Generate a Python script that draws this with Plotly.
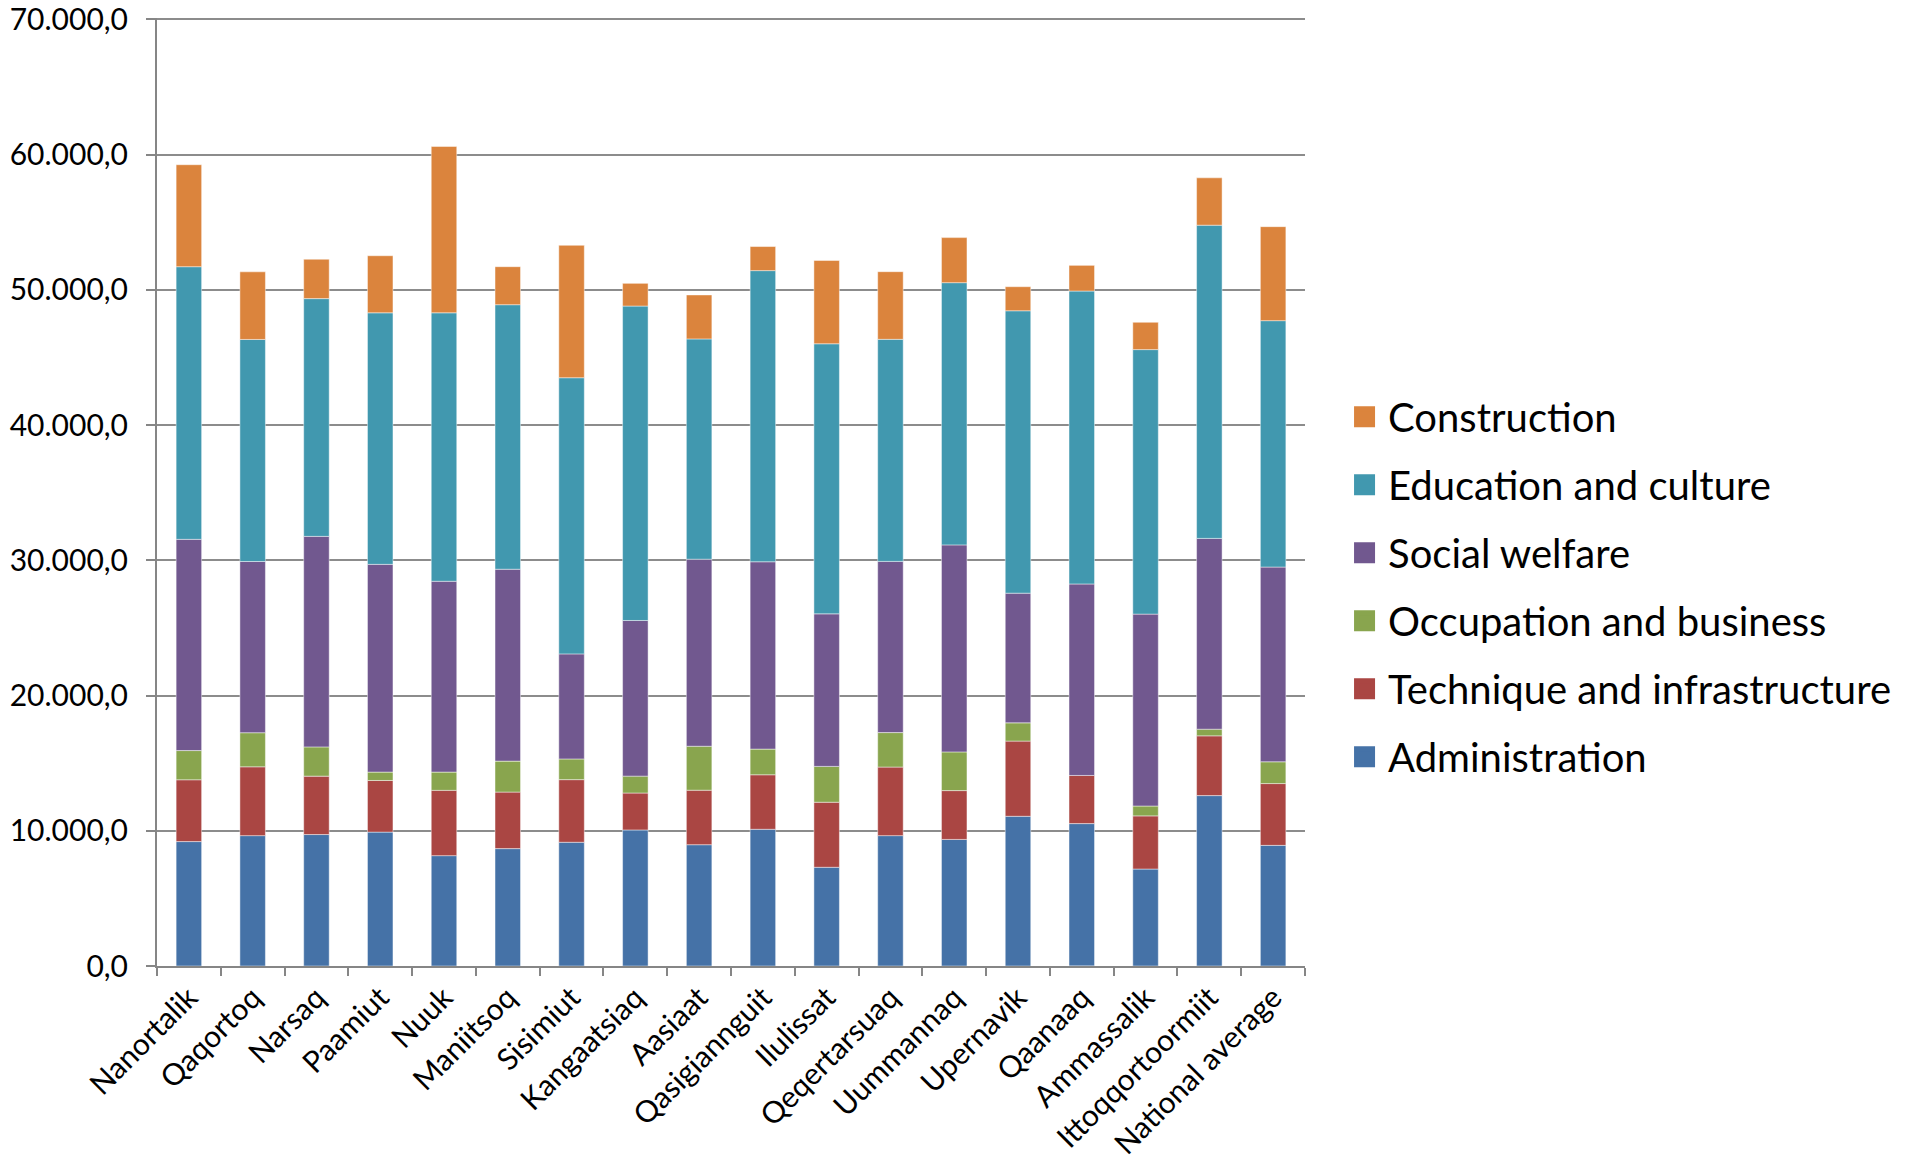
import plotly.graph_objects as go

categories = ["Nanortalik", "Qaqortoq", "Narsaq", "Paamiut", "Nuuk", "Maniitsoq",
              "Sisimiut", "Kangaatsiaq", "Aasiaat", "Qasigiannguit", "Ilulissat",
              "Qeqertarsuaq", "Uummannaq", "Upernavik", "Qaanaaq", "Ammassalik",
              "Ittoqqortoormiit", "National average"]

administration = [9200, 9640, 9720, 9900, 8160, 8680, 9150, 10060, 8970, 10110,
                  7300, 9640, 9360, 11070, 10530, 7170, 12600, 8920]
technique = [4570, 5090, 4320, 3820, 4830, 4180, 4630, 2730, 4030, 4030,
             4810, 5070, 3610, 5560, 3560, 3930, 4420, 4570]
occupation = [2160, 2520, 2160, 620, 1350, 2290, 1530, 1250, 3250, 1900,
              2650, 2550, 2860, 1350, -200, 730, 490, 1610]
social = [15620, 12660, 15570, 15360, 14110, 14190, 7770, 11510, 13830, 13850,
          11280, 12660, 15310, 9590, 14160, 14190, 14110, 14400]
education = [20160, 16420, 17580, 18600, 19850, 19560, 20420, 23250, 16290, 21530,
             19970, 16420, 19390, 20880, 21660, 19560, 23160, 18220]
construction = [7540, 5000, 2910, 4220, 12300, 2810, 9790, 1680, 3250, 1780,
                6160, 5000, 3330, 1780, 1900, 2020, 3500, 6950]

series = [
    ("Administration", administration, "#4572A7"),
    ("Technique and infrastructure", technique, "#AA4643"),
    ("Occupation and business", occupation, "#89A54E"),
    ("Social welfare", social, "#71588F"),
    ("Education and culture", education, "#4198AF"),
    ("Construction", construction, "#DB843D"),
]

y_ticks = [0, 10000, 20000, 30000, 40000, 50000, 60000, 70000]

fig = go.Figure()
# stacked bars (bottom to top)
for i, (name, vals, color) in enumerate(series):
    fig.add_trace(go.Bar(
        x=categories, y=vals, name=name, legendgroup=f"g{i}", showlegend=False,
        marker=dict(color=color, line=dict(color="rgba(255,255,255,0.45)", width=1)),
    ))
# legend entries (top to bottom) with larger square swatches
for i, (name, vals, color) in reversed(list(enumerate(series))):
    fig.add_trace(go.Scatter(
        x=[None], y=[None], mode="markers", name=name, legendgroup=f"g{i}",
        marker=dict(symbol="square", size=16, color=color,
                    line=dict(color=color, width=5)),
        hoverinfo="skip",
    ))

fig.update_layout(
    width=1910, height=1167,
    barmode="relative",
    bargap=0.6,
    separators=",.",
    plot_bgcolor="white", paper_bgcolor="white",
    font=dict(family="Lato", size=30, color="black"),
    margin=dict(l=157, r=605, t=18, b=201, autoexpand=False),
    showlegend=True,
    legend=dict(
        traceorder="grouped", x=1.0314, xanchor="left", y=0.40, yanchor="middle",
        font=dict(size=40, family="Lato"), tracegroupgap=13, itemwidth=37,
        itemsizing="trace", bgcolor="rgba(0,0,0,0)",
    ),
    xaxis=dict(
        type="category", showline=True, linecolor="#868686", linewidth=2,
        ticks="outside", tickson="boundaries", ticklen=8, tickcolor="#868686",
        tickwidth=2, tickangle=-45, showgrid=False, automargin=False,
        tickfont=dict(size=30, family="Lato"), ticklabeloverflow="allow",
    ),
    yaxis=dict(
        range=[0, 70100], tickvals=y_ticks, tickformat=",.1f",
        showline=True, linecolor="#868686", linewidth=2,
        ticks="outside", ticklen=9, tickcolor="#868686", tickwidth=2,
        showgrid=True, gridcolor="#8C8C8C", gridwidth=2, zeroline=False,
        automargin=False, ticklabelstandoff=12, ticklabeloverflow="allow",
        tickfont=dict(size=30, family="Lato"),
    ),
)

fig.write_html("out.html", config={"displayModeBar": False},
               post_script="document.body.style.margin='0';")
